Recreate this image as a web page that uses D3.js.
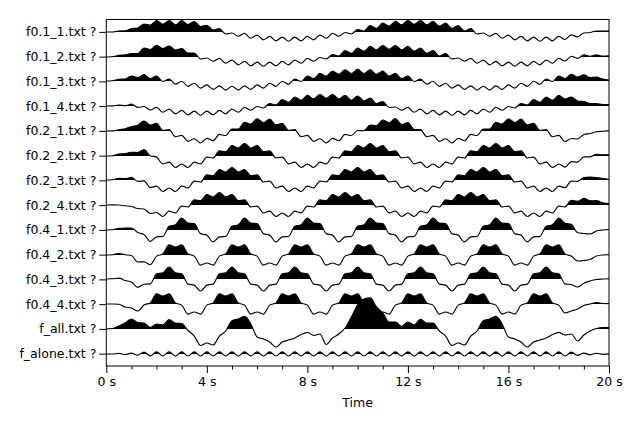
<!DOCTYPE html>
<html>
<head>
<meta charset="utf-8">
<script src="https://cdn.jsdelivr.net/npm/d3@7/dist/d3.min.js"></script>
<style>
  body { margin: 0; background: #fff; }
  svg { display: block; font-family: "DejaVu Sans", sans-serif; }
</style>
</head>
<body>
<div id="chart"></div>
<script>
// trace names, top to bottom
const traceNames = ["f0.1_1.txt ?", "f0.1_2.txt ?", "f0.1_3.txt ?", "f0.1_4.txt ?",
                    "f0.2_1.txt ?", "f0.2_2.txt ?", "f0.2_3.txt ?", "f0.2_4.txt ?",
                    "f0.4_1.txt ?", "f0.4_2.txt ?", "f0.4_3.txt ?", "f0.4_4.txt ?",
                    "f_all.txt ?", "f_alone.txt ?"];

// sampling interval of every trace (s)
const dt = 0.25;

// amplitudes, 24.7 units = one trace spacing
const f01_1 = [0, 0, 1.0, 1.1, 3.5, 4.0, 8.0, 6.8, 11.5, 7.6,
  11.5, 7.1, 11.3, 7.5, 10.5, 5.5, 6.7, 2.0, 3.3, -2,
  -1.0, -4.2, -1.3, -6.2, -3.1, -7.8, -4.4, -8.8, -5.1, -9.2,
  -5.1, -8.8, -4.4, -7.8, -3.1, -6.2, -1.3, -4.2, -0.5, -2,
  2.5, 1.0, 6.4, 3.6, 8.8, 5.8, 10.6, 7.1, 11.5, 7.6,
  11.5, 7.1, 10.6, 5.8, 8.8, 3.6, 6.4, 1.0, 3.5, -2,
  -1.0, -4.2, -1.3, -6.2, -3.1, -7.8, -4.4, -8.8, -5.1, -9.2,
  -5.1, -8.8, -4.4, -7.5, -2.9, -4.8, -1.0, -0.5, 1.0, 0.8, 1.0];
const f01_2 = [0, 0.2, 1.6, 2.1, 3.5, 3.5, 9.0, 7.5, 11.7, 8.5,
  11.0, 7.0, 8.3, 4.0, 4.0, -2, -1.0, -4.2, -1.3, -6.2,
  -3.1, -7.8, -4.4, -8.8, -5.1, -9.2, -5.1, -8.8, -4.4, -7.8,
  -3.1, -6.2, -1.3, -4.2, -0.5, -2, 2.5, 1.0, 6.4, 3.6,
  8.8, 5.8, 10.6, 7.1, 11.5, 7.6, 11.5, 7.1, 10.6, 5.8,
  8.8, 3.6, 6.4, 1.0, 3.5, -2, -1.0, -4.2, -1.3, -6.2,
  -3.1, -7.8, -4.4, -8.8, -5.1, -9.2, -5.1, -8.8, -4.4, -7.8,
  -3.1, -6.2, -1.3, -4.0, 0.7, -1.4, 2.1, 0.7, 2.1, 1.0, 1.2];
const f01_3 = [0, 0.3, 1.7, 2.0, 4.9, 3.3, 6.5, 2.3, 5.0, -0.5,
  2.0, -3.1, -0.2, -5.3, -2.2, -7.1, -3.8, -8.4, -4.8, -9.1,
  -5.2, -9.1, -4.8, -8.4, -3.8, -7.1, -2.2, -5.3, -0.2, -3.1,
  2.0, -0.5, 5.0, 2.4, 7.6, 4.8, 9.8, 6.6, 11.1, 7.5,
  11.6, 7.5, 11.1, 6.6, 9.8, 4.8, 7.6, 2.4, 5.0, -0.5,
  2.0, -3.1, -0.2, -5.3, -2.2, -7.1, -3.8, -8.4, -4.8, -9.1,
  -5.2, -9.1, -4.8, -8.4, -3.8, -7.1, -2.2, -5.3, -0.2, -3.1,
  2.0, -0.5, 5.0, 2.4, 6.7, 4.0, 6.2, 3.5, 3.8, 2.0, 1.0];
const f01_4 = [0, 0.1, 1.0, 0.3, 1.8, -1.4, -0.5, -4.0, -1.3, -6.2,
  -3.1, -7.8, -4.4, -8.8, -5.1, -9.2, -5.1, -8.8, -4.4, -7.8,
  -3.1, -6.2, -1.3, -4.2, -0.5, -2, 2.5, 1.0, 6.4, 3.6,
  8.8, 5.8, 10.6, 7.1, 11.5, 7.6, 11.5, 7.1, 10.6, 5.8,
  10.0, 5.0, 8.0, 2.5, 4.5, -1.5, -1.0, -4.2, -1.3, -6.2,
  -3.1, -7.8, -4.4, -8.8, -5.1, -9.2, -5.1, -8.8, -4.4, -7.8,
  -3.1, -6.2, -1.3, -4.2, -0.5, -2, 2.5, 1.0, 6.4, 3.6,
  8.8, 5.8, 10.6, 6.9, 9.0, 5.0, 4.5, 2.5, 2.3, 1.5, 1.3];
const f02_1 = [0, 0.1, 1.3, 2.1, 4.5, 5.8, 10, 5.9, 7.6, 0.6,
  1.4, -5.7, -4.4, -10.4, -7.7, -12, -7.3, -9.7, -3.4, -4.5,
  2.0, 1.9, 8.7, 6.9, 12.2, 8.5, 11.8, 6.1, 7.6, 0.6,
  1.4, -5.7, -4.4, -10.4, -7.7, -12, -7.3, -9.7, -3.4, -4.5,
  0.5, 0.3, 6.0, 5.5, 11.0, 8.3, 12.3, 6.5, 8.3, 1.5,
  1.4, -5.7, -4.4, -10.4, -7.7, -12, -7.3, -9.7, -3.4, -4.5,
  2.0, 1.9, 8.7, 6.9, 12.2, 8.5, 11.8, 6.1, 7.6, 0.6,
  1.4, -5.7, -4.4, -10.5, -7.5, -8, -3.5, -2.5, -0.8, -0.2, 0.3];
const f02_2 = [0, 0.3, 1.9, 2.4, 3.7, 3.5, 6.3, 0.3, -1.1, -7.9,
  -6.1, -11.5, -8, -11.5, -6.1, -7.9, -1.1, -2, 5.2, 4.2,
  10.5, 8, 12.5, 8, 10.5, 4.2, 5.2, -2, -1.1, -7.9,
  -6.1, -11.5, -8, -11.5, -6.1, -7.9, -1.1, -2, 5.2, 4.2,
  10.5, 8, 12.5, 8, 10.5, 4.2, 5.2, -2, -1.1, -7.9,
  -6.1, -11.5, -8, -11.5, -6.1, -7.9, -1.1, -2, 5.2, 4.2,
  10.5, 8, 12.5, 8, 10.5, 4.2, 5.2, -2, -1.1, -7.9,
  -6.1, -11.5, -8, -11.1, -5.6, -6.1, -0.9, -0.8, 1.7, 1.2, 1.2];
const f02_3 = [0, 0.3, 1.6, 1.3, 2.6, -1.4, -0.9, -7.6, -6.1, -11.5,
  -8, -11.5, -6.1, -7.9, -1.1, -2, 5.2, 4.2, 10.5, 8,
  12.5, 8, 10.5, 4.2, 5.2, -2, -1.1, -7.9, -6.1, -11.5,
  -8, -11.5, -6.1, -7.9, -1.1, -2, 5.2, 4.2, 10.5, 8,
  12.5, 8, 10.5, 4.2, 5.2, -2, -1.1, -7.9, -6.1, -11.5,
  -8, -11.5, -6.1, -7.9, -1.1, -2, 5.2, 4.2, 10.5, 8,
  12.5, 8, 10.5, 4.2, 5.2, -2, -1.1, -7.9, -6.1, -11.5,
  -8, -11.5, -6.1, -7.6, -1.1, -1.4, 2.5, 3.0, 2.5, 1.5, 0.7];
const f02_4 = [0, 0.1, 0, -0.8, -1.5, -3.5, -4, -8.5, -7.5, -11.5,
  -6.1, -7.9, -1.1, -2, 5.2, 4.2, 10.5, 8, 12.5, 8,
  10.5, 4.2, 5.2, -2, -1.1, -7.9, -6.1, -11.5, -8, -11.5,
  -6.1, -7.9, -1.1, -2, 5.2, 4.2, 10.5, 8, 12.5, 8,
  10.5, 4.2, 5.2, -2, -1.1, -7.9, -6.1, -11.5, -8, -11.5,
  -6.1, -7.9, -1.1, -2, 5.2, 4.2, 10.5, 8, 12.5, 8,
  10.5, 4.2, 5.2, -2, -1.1, -7.9, -6.1, -11.5, -8, -11.5,
  -6.1, -7.9, -1.1, -1.9, 4.6, 3.6, 6.6, 4.2, 4.3, 2.1, 1.3];
const f04_1 = [0, 0.2, 1.7, 1.8, 2.0, -2.5, -4.4, -11.4, -6.9, -6.4,
  3.6, 5.1, 11.9, 6.9, 6.4, -3.6, -5.1, -11.9, -6.9, -6.4,
  3.6, 5.1, 11.9, 6.9, 6.4, -3.6, -5.1, -11.9, -6.9, -6.4,
  3.6, 5.1, 11.9, 6.9, 6.4, -3.6, -5.1, -11.9, -6.9, -6.4,
  3.6, 5.1, 11.9, 6.9, 6.4, -3.6, -5.1, -11.9, -6.9, -6.4,
  3.6, 5.1, 11.9, 6.9, 6.4, -3.6, -5.1, -11.9, -6.9, -6.4,
  3.6, 5.1, 11.9, 6.9, 6.4, -3.6, -5.1, -11.9, -6.9, -6.4,
  3.6, 5.1, 11.9, 6.7, 5.7, -2.7, -3.5, -4, -1, 0, 0.5];
const f04_2 = [0, 0.3, 1.5, 0.3, -0.5, -7, -6.8, -9.7, -1.1, 1.1,
  10.1, 8, 10.1, 1.1, -1.1, -10.1, -8, -10.1, -1.1, 1.1,
  10.1, 8, 10.1, 1.1, -1.1, -10.1, -8, -10.1, -1.1, 1.1,
  10.1, 8, 10.1, 1.1, -1.1, -10.1, -8, -10.1, -1.1, 1.1,
  10.1, 8, 10.1, 1.1, -1.1, -10.1, -8, -10.1, -1.1, 1.1,
  10.1, 8, 10.1, 1.1, -1.1, -10.1, -8, -10.1, -1.1, 1.1,
  10.1, 8, 10.1, 1.1, -1.1, -10.1, -8, -10.1, -1.1, 1.1,
  10.1, 8, 10.1, 1.1, -1.1, -6, -5.5, -4.5, -1, 0, 0.2];
const f04_3 = [0, 0.2, 0.8, -1.5, -3, -8.3, -5.2, -4.9, 5.1, 6.1,
  12, 6.1, 5.1, -5.1, -6.1, -12, -6.1, -5.1, 5.1, 6.1,
  12, 6.1, 5.1, -5.1, -6.1, -12, -6.1, -5.1, 5.1, 6.1,
  12, 6.1, 5.1, -5.1, -6.1, -12, -6.1, -5.1, 5.1, 6.1,
  12, 6.1, 5.1, -5.1, -6.1, -12, -6.1, -5.1, 5.1, 6.1,
  12, 6.1, 5.1, -5.1, -6.1, -12, -6.1, -5.1, 5.1, 6.1,
  12, 6.1, 5.1, -5.1, -6.1, -12, -6.1, -5.1, 5.1, 6.1,
  12, 6.1, 5.1, -4.9, -5.6, -8, -4.2, -2, -0.5, 0, 0.3];
const f04_4 = [0, 0, -0.2, -3, -4, -7, -0.9, 1.1, 10.1, 8,
  10.1, 1.1, -1.1, -10.1, -8, -10.1, -1.1, 1.1, 10.1, 8,
  10.1, 1.1, -1.1, -10.1, -8, -10.1, -1.1, 1.1, 10.1, 8,
  10.1, 1.1, -1.1, -10.1, -8, -10.1, -1.1, 1.1, 10.1, 8,
  10.1, 1.1, -1.1, -10.1, -8, -10.1, -1.1, 1.1, 10.1, 8,
  10.1, 1.1, -1.1, -10.1, -8, -10.1, -1.1, 1.1, 10.1, 8,
  10.1, 1.1, -1.1, -10.1, -8, -10.1, -1.1, 1.1, 10.1, 8,
  10.1, 1.1, -1.1, -9, -7, -5, -1.5, 0, 1.3, 0.5, 0.3];
const fAll = [0, 0.5, 3, 6, 10, 6.5, 6, 1.5, 5, 4,
  9.3, 6, 5.5, -1.5, -7, -16.5, -14, -16, -7, -2,
  8.3, 10, 12.7, 5, -8, -10, -13, -18, -13, -11,
  -9, -5.5, -3.3, -6.5, -5, -15.5, -9, -5, 1, 12,
  24, 30, 31, 22, 16, 7, 7, 2.5, 7, 4,
  9.7, 6, 6, -2, -7, -16.5, -14, -16, -7, -2,
  8.3, 10, 12.7, 5, -8, -10, -13, -18, -13, -11,
  -9, -5.5, -3.3, -6, -5, -12, -6, -2, 0.5, 1.5, 1.5];
const fAlone = [0, 0, 0.6, -0.6, 0.8, -1.1, 1.8, -1.9, 2.2, -2,
  2.2, -2, 2.2, -2, 2.2, -2, 2.2, -2, 2.2, -2,
  2.2, -2, 2.2, -2, 2.2, -2, 2.2, -2, 2.2, -2,
  2.2, -2, 2.2, -2, 2.2, -2, 2.2, -2, 2.2, -2,
  2.2, -2, 2.2, -2, 2.2, -2, 2.2, -2, 2.2, -2,
  2.2, -2, 2.2, -2, 2.2, -2, 2.2, -2, 2.2, -2,
  2.2, -2, 2.2, -2, 2.2, -2, 2.2, -2, 2.2, -2,
  2.2, -2, 2.2, -2, 1.9, -1.4, 1.0, -0.8, 0.7, -0.3, 0.1];

const traces = [f01_1, f01_2, f01_3, f01_4, f02_1, f02_2, f02_3, f02_4,
                f04_1, f04_2, f04_3, f04_4, fAll, fAlone];

const timeDomain = [0, 20];
const timeTicks = [0, 4, 8, 12, 16, 20];

var width = 629, height = 433,
    margin = {top: 19.5, right: 20, bottom: 67, left: 106.3};

var svg = d3.select("#chart").append("svg")
    .attr("width", width)
    .attr("height", height);

var x = d3.scaleLinear()
    .domain(timeDomain)
    .range([margin.left, width - margin.right]);

var y = d3.scalePoint()
    .domain(traceNames)
    .range([margin.top, height - margin.bottom])
    .padding(0.5);

// amplitude -> pixels, 24.7 units per trace spacing
var amp = d3.scaleLinear()
    .domain([0, 24.7])
    .range([0, y.step()]);

var defs = svg.append("defs");
var plot = svg.append("g");

traces.forEach(function(values, i) {
  // snap the zero line to a pixel edge so the clipped fill leaves no grey seam
  var base = Math.round(y(traceNames[i]));

  // only the part above the zero line gets filled
  defs.append("clipPath")
      .attr("id", "pos" + i)
    .append("rect")
      .attr("x", margin.left)
      .attr("y", 0)
      .attr("width", width - margin.left - margin.right)
      .attr("height", base);

  var area = d3.area()
      .x(function(d, j) { return x(j * dt); })
      .y0(base)
      .y1(function(d) { return base - amp(d); })
      .curve(d3.curveMonotoneX);

  var line = d3.line()
      .x(function(d, j) { return x(j * dt); })
      .y(function(d) { return base - amp(d); })
      .curve(d3.curveMonotoneX);

  plot.append("path")
      .attr("d", area(values))
      .attr("fill", "#000")
      .attr("clip-path", "url(#pos" + i + ")");

  plot.append("path")
      .attr("d", line(values))
      .attr("fill", "none")
      .attr("stroke", "#000")
      .attr("stroke-width", 1.15)
      .attr("stroke-linejoin", "round");
});

// frame
svg.append("rect")
    .attr("x", margin.left)
    .attr("y", margin.top)
    .attr("width", width - margin.left - margin.right)
    .attr("height", height - margin.top - margin.bottom)
    .attr("fill", "none")
    .attr("stroke", "#000")
    .attr("stroke-width", 1);

function styleAxis(g) {
  g.select(".domain").remove();
  g.attr("font-family", "DejaVu Sans, sans-serif")
   .attr("font-size", 12.5);
  g.selectAll("text").attr("fill", "#000");
  g.selectAll("line").attr("stroke", "#000");
}

// minor ticks every second
svg.append("g")
    .attr("transform", "translate(0," + (height - margin.bottom) + ")")
    .call(d3.axisBottom(x)
            .tickValues(d3.range(1, 20).filter(function(d) { return d % 4 !== 0; }))
            .tickSize(3.5)
            .tickFormat(""))
    .call(styleAxis);

svg.append("g")
    .attr("transform", "translate(0," + (height - margin.bottom) + ")")
    .call(d3.axisBottom(x)
            .tickValues(timeTicks)
            .tickSize(7)
            .tickPadding(4)
            .tickFormat(function(d) { return d + " s"; }))
    .call(styleAxis);

svg.append("g")
    .attr("transform", "translate(" + margin.left + ",0)")
    .call(d3.axisLeft(y).tickSize(7).tickPadding(3))
    .call(styleAxis);

svg.append("text")
    .attr("x", (margin.left + width - margin.right) / 2)
    .attr("y", 406.5)
    .attr("text-anchor", "middle")
    .attr("font-size", 12.5)
    .attr("fill", "#000")
    .text("Time");
</script>
</body>
</html>
